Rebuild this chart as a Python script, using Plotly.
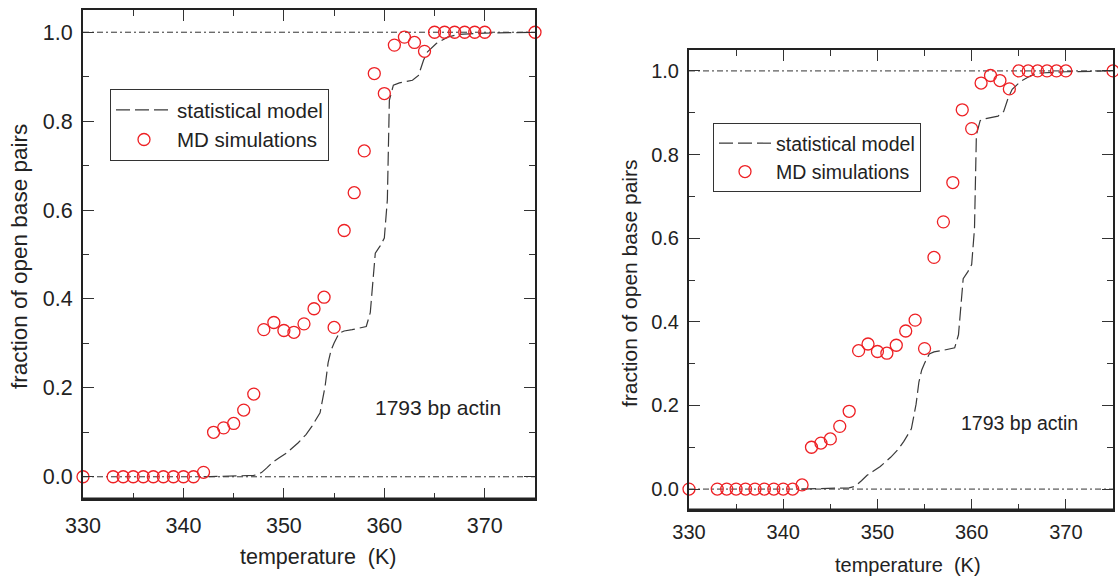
import plotly.graph_objects as go

W, H = 1118, 577

# ---- data ----
md_T = [330, 333, 334, 335, 336, 337, 338, 339, 340, 341, 342, 343, 344, 345, 346, 347,
        348, 349, 350, 351, 352, 353, 354, 355, 356, 357, 358, 359, 360, 361, 362, 363,
        364, 365, 366, 367, 368, 369, 370, 375]
md_f = [0.0, 0.0, 0.0, 0.0, 0.0, 0.0, 0.0, 0.0, 0.0, 0.0, 0.01, 0.10, 0.11, 0.12, 0.15, 0.186,
        0.331, 0.347, 0.329, 0.325, 0.344, 0.378, 0.404, 0.336, 0.554, 0.639, 0.733, 0.907,
        0.862, 0.971, 0.989, 0.977, 0.957, 1.0, 1.0, 1.0, 1.0, 1.0, 1.0, 1.0]

model_T = [342, 347.0, 347.5, 347.8, 348.3, 348.9, 349.5, 350.3, 351.4, 352.2, 352.8, 353.6,
           354.1, 354.4, 354.7, 355.0, 355.5, 356.0, 356.8, 358.2, 358.6, 358.7, 358.9, 359.1,
           359.6, 360.0, 360.3, 360.4, 360.5, 360.9, 361.5, 362.8, 363.4, 363.9, 364.3, 365.2,
           366.3, 367.3, 370.0, 375]
model_f = [0.0, 0.003, 0.006, 0.01, 0.02, 0.033, 0.042, 0.054, 0.076, 0.095, 0.114, 0.144,
           0.203, 0.256, 0.285, 0.301, 0.323, 0.328, 0.331, 0.338, 0.369, 0.398, 0.436, 0.503,
           0.52, 0.537, 0.623, 0.772, 0.847, 0.881, 0.886, 0.892, 0.903, 0.937, 0.956, 0.975,
           0.989, 0.995, 0.998, 1.0]

ref_levels = [0.0, 1.0]
x_range = [330, 375]
y_range = [-0.05, 1.05]
x_ticks = [330, 340, 350, 360, 370]
y_ticks = [0.0, 0.2, 0.4, 0.6, 0.8, 1.0]
y_ticklabels = ["0.0", "0.2", "0.4", "0.6", "0.8", "1.0"]
label_text = "1793 bp actin"
x_title = "temperature  (K)"
y_title = "fraction of open base pairs"
names = ["statistical model", "MD simulations"]

FONT = "Liberation Sans, Arial, sans-serif"
TXT = "#222222"
RED = "rgb(238,32,36)"

def px(x):
    return x / W

def py(y):
    return 1 - y / H

panels = [
    dict(ax="", dx=(83, 535), dy=(10, 499), fs=21.5, lfs=20.5, leg="legend", legpos=(110, 89),
         lab=(373, 407), xt=(318, 557), yt=(19, 257), xstand=6, iw=56),
    dict(ax="2", dx=(689, 1113), dy=(50, 510), fs=20, lfs=19.5, leg="legend2", legpos=(713, 123),
         lab=(959, 423), xt=(908, 565), yt=(629, 283), xstand=3, iw=52),
]

fig = go.Figure()
annotations = []
layout = dict(
    width=W, height=H, margin=dict(l=0, r=0, t=0, b=0, autoexpand=False),
    paper_bgcolor="white", plot_bgcolor="white",
    showlegend=True,
)

for p in panels:
    xa = "x" + p["ax"]
    ya = "y" + p["ax"]
    for lv in ref_levels:
        fig.add_trace(go.Scatter(
            x=x_range, y=[lv, lv], mode="lines", xaxis=xa, yaxis=ya,
            line=dict(color="#333333", width=1, dash="6px,3px,2px,3px"),
            showlegend=False, hoverinfo="skip"))
    fig.add_trace(go.Scatter(
        x=model_T, y=model_f, mode="lines", name=names[0], xaxis=xa, yaxis=ya,
        line=dict(color="#3a3a3a", width=1.2, dash="14px,5px"),
        legend=p["leg"]))
    fig.add_trace(go.Scatter(
        x=md_T, y=md_f, mode="markers", name=names[1], xaxis=xa, yaxis=ya,
        marker=dict(symbol="circle-open", size=12, color=RED, line=dict(width=1.3, color=RED)),
        cliponaxis=False, legend=p["leg"]))

    axis_common = dict(
        showline=True, linecolor="#222222", linewidth=2, mirror="ticks",
        ticks="inside", tickcolor="#333333", tickwidth=1.2, ticklen=11,
        showgrid=False, zeroline=False, automargin=False,
        tickfont=dict(family=FONT, size=p["fs"], color=TXT),
    )
    layout["xaxis" + p["ax"]] = dict(
        axis_common, domain=[px(p["dx"][0]), px(p["dx"][1])], range=x_range,
        tickvals=x_ticks, anchor=ya,
        minor=dict(dtick=5, ticklen=6, ticks="inside", tickcolor="#333333", tickwidth=1.2),
        ticklabelstandoff=p["xstand"],
    )
    layout["yaxis" + p["ax"]] = dict(
        axis_common, domain=[py(p["dy"][1]), py(p["dy"][0])], range=y_range,
        tickvals=y_ticks, ticktext=y_ticklabels, anchor=xa,
        minor=dict(dtick=0.1, ticklen=6, ticks="inside", tickcolor="#333333", tickwidth=1.2),
        ticklabelstandoff=4,
    )
    layout[p["leg"]] = dict(
        x=px(p["legpos"][0]), y=py(p["legpos"][1]), xanchor="left", yanchor="top",
        bgcolor="white", bordercolor="#333333", borderwidth=1,
        font=dict(family=FONT, size=p["lfs"], color=TXT),
        itemwidth=p["iw"], tracegroupgap=0,
    )
    annotations.append(dict(
        text=label_text, x=px(p["lab"][0]), y=py(p["lab"][1]), xref="paper", yref="paper",
        xanchor="left", yanchor="middle", showarrow=False,
        font=dict(family=FONT, size=p["fs"] - 0.5, color=TXT)))
    annotations.append(dict(
        text=x_title, x=px(p["xt"][0]), y=py(p["xt"][1]), xref="paper", yref="paper",
        xanchor="center", yanchor="middle", showarrow=False,
        font=dict(family=FONT, size=p["fs"], color=TXT)))
    annotations.append(dict(
        text=y_title, x=px(p["yt"][0]), y=py(p["yt"][1]), xref="paper", yref="paper",
        xanchor="center", yanchor="middle", showarrow=False, textangle=-90,
        font=dict(family=FONT, size=p["fs"] + 1, color=TXT)))

layout["annotations"] = annotations
fig.update_layout(**layout)

for p in panels:
    fig.add_shape(type="line", xref="x" + p["ax"] + " domain", yref="y" + p["ax"] + " domain",
                  x0=0, x1=1, y0=0, y1=0, line=dict(color="#222222", width=3.2), layer="above")

fig.write_html("out.html")
